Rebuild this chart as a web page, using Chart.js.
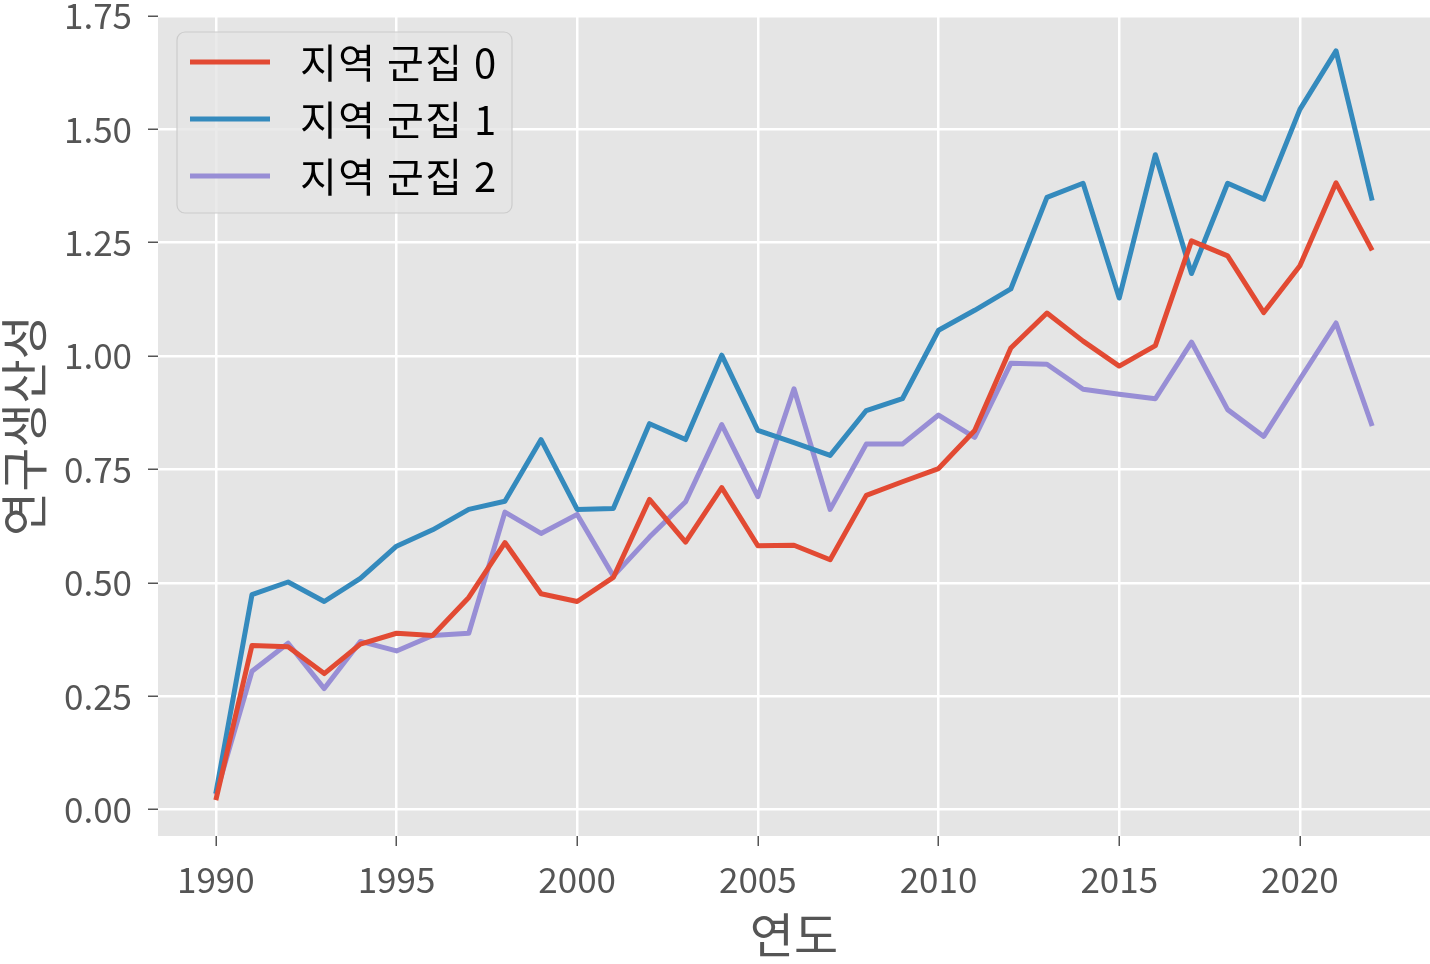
<!DOCTYPE html>
<html>
<head>
<meta charset="utf-8">
<script src="https://cdn.jsdelivr.net/npm/chart.js@4/dist/chart.umd.min.js"></script>
<style>
  html, body { margin: 0; padding: 0; background: #fff; }
  #wrap { width: 1430px; height: 964px; }
</style>
</head>
<body>
<div id="wrap"><canvas id="chart" width="1430" height="964"></canvas></div>
<script>
const years = [1990, 1991, 1992, 1993, 1994, 1995, 1996, 1997, 1998, 1999,
               2000, 2001, 2002, 2003, 2004, 2005, 2006, 2007, 2008, 2009,
               2010, 2011, 2012, 2013, 2014, 2015, 2016, 2017, 2018, 2019,
               2020, 2021, 2022];

const cluster0 = [0.021, 0.362, 0.359, 0.300, 0.365, 0.389, 0.384, 0.468, 0.589, 0.476,
                  0.459, 0.512, 0.684, 0.590, 0.710, 0.582, 0.583, 0.551, 0.693, 0.723,
                  0.752, 0.836, 1.018, 1.095, 1.033, 0.978, 1.023, 1.254, 1.221, 1.096,
                  1.199, 1.382, 1.233];

const cluster1 = [0.036, 0.474, 0.502, 0.459, 0.510, 0.581, 0.617, 0.662, 0.680, 0.816,
                  0.662, 0.664, 0.851, 0.816, 1.002, 0.836, 0.809, 0.781, 0.880, 0.906,
                  1.057, 1.101, 1.148, 1.350, 1.381, 1.128, 1.444, 1.182, 1.381, 1.346,
                  1.544, 1.673, 1.343];

const cluster2 = [0.033, 0.305, 0.367, 0.267, 0.371, 0.350, 0.384, 0.389, 0.656, 0.609,
                  0.651, 0.515, 0.601, 0.679, 0.849, 0.690, 0.928, 0.662, 0.806, 0.806,
                  0.870, 0.821, 0.984, 0.982, 0.927, 0.916, 0.906, 1.031, 0.882, 0.823,
                  0.949, 1.073, 0.846];

const seriesNames = ['지역 군집 0', '지역 군집 1', '지역 군집 2'];
const seriesColors = ['#E24A33', '#348ABD', '#988ED5'];

const xTitle = '연도';
const yTitle = '연구생산성';

const FONT = '"Noto Sans CJK KR", "Noto Sans", sans-serif';
Chart.defaults.font.family = FONT;

function toPoints(values) {
    return values.map((v, i) => ({ x: years[i], y: v }));
}

// grey panel behind the grid, like the ggplot style
const panelBg = {
    id: 'panelBg',
    beforeDraw(chart) {
        const { ctx, chartArea: a } = chart;
        ctx.save();
        ctx.fillStyle = '#ffffff';
        ctx.fillRect(0, 0, chart.width, chart.height);
        ctx.fillStyle = '#E5E5E5';
        ctx.fillRect(a.left, a.top, a.right - a.left, a.bottom - a.top);
        ctx.restore();
    }
};

// legend box drawn inside the plot, upper left
const innerLegend = {
    id: 'innerLegend',
    afterDatasetsDraw(chart) {
        const { ctx, chartArea: a } = chart;
        const x0 = a.left + 19, y0 = a.top + 17;
        const w = 335, h = 181, r = 8;
        ctx.save();
        ctx.beginPath();
        ctx.roundRect(x0, y0, w, h, r);
        ctx.fillStyle = 'rgba(229,229,229,0.8)';
        ctx.fill();
        ctx.lineWidth = 1.2;
        ctx.strokeStyle = '#CCCCCC';
        ctx.stroke();

        ctx.font = '40px ' + FONT;
        ctx.letterSpacing = '1.5px';
        ctx.textBaseline = 'middle';
        ctx.textAlign = 'left';
        chart.data.datasets.forEach((ds, i) => {
            const cy = y0 + 30 + i * 57;
            ctx.beginPath();
            ctx.moveTo(x0 + 13, cy);
            ctx.lineTo(x0 + 93, cy);
            ctx.lineWidth = 5;
            ctx.strokeStyle = ds.borderColor;
            ctx.stroke();
            ctx.fillStyle = '#000000';
            ctx.fillText(ds.label, x0 + 123, cy + 1);
        });
        ctx.restore();
    }
};

const datasets = [cluster0, cluster1, cluster2].map((vals, i) => ({
    label: seriesNames[i],
    data: toPoints(vals),
    borderColor: seriesColors[i],
    backgroundColor: seriesColors[i],
    borderWidth: 5,
    pointRadius: 0,
    tension: 0,
    borderJoinStyle: 'round',
    fill: false
}));

new Chart(document.getElementById('chart').getContext('2d'), {
    type: 'line',
    data: { datasets: datasets },
    options: {
        responsive: false,
        animation: false,
        layout: { padding: { top: 15, right: 0, left: 0, bottom: 0 } },
        plugins: {
            legend: { display: false },
            tooltip: { enabled: false }
        },
        scales: {
            x: {
                type: 'linear',
                min: 1988.4,
                max: 2023.6,
                border: { display: false },
                grid: { color: '#FFFFFF', lineWidth: 2.5, tickColor: '#555555', tickLength: 10, tickWidth: 1.5 },
                ticks: {
                    stepSize: 5,
                    includeBounds: false,
                    color: '#555555',
                    font: { size: 35 },
                    padding: 13,
                    maxRotation: 0,
                    callback: v => String(v)
                },
                title: {
                    display: true,
                    text: xTitle,
                    color: '#555555',
                    font: { size: 48, lineHeight: 1 },
                    padding: { top: 0, bottom: 5 }
                },
                afterFit(scale) {
                    scale.height = 128;
                    scale.paddingLeft = 0;
                    scale.paddingRight = 0;
                }
            },
            y: {
                type: 'linear',
                min: -0.058,
                max: 1.752,
                border: { display: false },
                grid: { color: '#FFFFFF', lineWidth: 2.5, tickColor: '#555555', tickLength: 10, tickWidth: 1.5 },
                ticks: {
                    stepSize: 0.25,
                    includeBounds: false,
                    color: '#555555',
                    font: { size: 35 },
                    padding: 16,
                    callback: v => v.toFixed(2)
                },
                title: {
                    display: true,
                    text: yTitle,
                    color: '#555555',
                    font: { size: 48, lineHeight: 1 },
                    padding: { top: 0, bottom: 0 }
                },
                afterFit(scale) {
                    scale.width = 158;
                    scale.paddingTop = 0;
                    scale.paddingBottom = 0;
                }
            }
        }
    },
    plugins: [panelBg, innerLegend]
});
</script>
</body>
</html>
